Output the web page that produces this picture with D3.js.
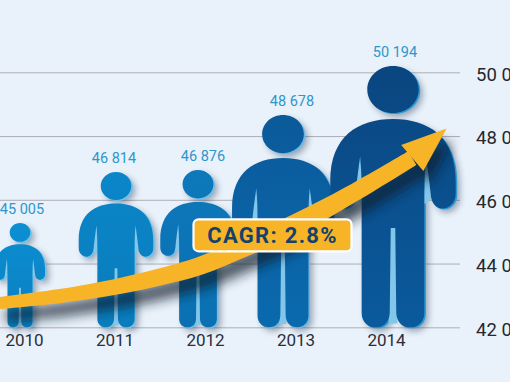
<!DOCTYPE html>
<html><head><meta charset="utf-8">
<script src="https://cdn.jsdelivr.net/npm/d3@7/dist/d3.min.js"></script>
<style>html,body{margin:0;padding:0;background:#e9f1fa;overflow:hidden}svg{display:block}
text{font-family:Roboto,"Open Sans",sans-serif}</style></head><body>
<script>
const years=["2010","2011","2012","2013","2014"];
const values=[45005,46814,46876,48678,50194];
const axisTicks=[42000,44000,46000,48000,50000];
const topColors=["#0b8fd3","#0a86c9","#0d78ba","#0a5a9a","#0a4680"];
const bottomColors=["#0a7fc0","#0a7cbc","#0a70b2","#0a6aae","#0a5a9c"];
const rimColors=["#6fc3ea","#6fc3ea","#6fbfe8","#6ab8e4","#2b9bd6"];
const figureCentres=[20,116,198,283,393];
const labelCentres=[22,114,203,292,395];
const figureDomain=[45005,46814,48678,50194], figureRange=[223,172,115,66];
const arrowYears=[2009.73,2010.40,2011.06,2011.50,2011.94,2012.44,2013.05,2013.60,2014.29];
const arrowValues=[42762,42982,43296,43578,43923,44519,45303,46150,47311];
const arrowWidths=[12,14,16,17,18,19,20,18,16];
const arrowTip=[2014.67,48239];
const cagrLabel="CAGR: 2.8%";

const W=510,H=382;
const svg=d3.select("body").append("svg").attr("width",W).attr("height",H);
const defs=svg.append("defs");
svg.append("rect").attr("width",W).attr("height",H).attr("fill","#e9f1fa");
[["b3",3],["b7",6]].forEach(([id,s])=>defs.append("filter").attr("id",id)
  .attr("x","-30%").attr("y","-30%").attr("width","160%").attr("height","160%")
  .append("feGaussianBlur").attr("stdDeviation",s));
years.forEach((y,i)=>{
  const g=defs.append("linearGradient").attr("id","g"+y).attr("x1",0).attr("y1",0).attr("x2",0).attr("y2",1);
  g.append("stop").attr("offset",0).attr("stop-color",topColors[i]);
  g.append("stop").attr("offset",1).attr("stop-color",bottomColors[i]);
});

const y=d3.scaleLinear().domain([42000,50000]).range([327.3,72.3]);
const xAxisScale=d3.scalePoint().domain(years).range([24,386]);
const xYear=d3.scaleLinear().domain([2010,2014]).range([24,386]);
const xFigure=d3.scaleOrdinal(years,figureCentres);
const xLabel=d3.scaleOrdinal(years,labelCentres);
const figureTop=d3.scaleLinear().domain(figureDomain).range(figureRange);
const fmt=v=>d3.format(",")(v).replace(","," ");

// grid + right axis
const yAxis=svg.append("g").attr("transform","translate(460,0)")
  .call(d3.axisRight(y).tickValues(axisTicks).tickSize(-460).tickPadding(16).tickFormat(fmt));
yAxis.select(".domain").remove();
yAxis.selectAll("line").attr("stroke","#adafb6").attr("stroke-width",1);
yAxis.selectAll("text").attr("font-size",18.5).attr("fill","#24272e").attr("dy","0.42em");

// bottom axis
const xAxis=svg.append("g").attr("transform","translate(0,327.3)")
  .call(d3.axisBottom(xAxisScale).tickSize(0).tickPadding(6));
xAxis.select(".domain").remove();
xAxis.selectAll("text").attr("font-size",17).attr("fill","#2a2f3a").attr("dy","0.72em");

// person shape, unit box: u in [-.5,.5], v in [0,1]
function person(w,h){
  const p=d3.path(),X=u=>u*w,Y=v=>v*h;
  p.moveTo(X(0),Y(.203));
  p.bezierCurveTo(X(.28),Y(.203),X(.5),Y(.27),X(.5),Y(.44));
  p.lineTo(X(.5),Y(.49));
  p.bezierCurveTo(X(.5),Y(.525),X(.45),Y(.545),X(.395),Y(.545));
  p.bezierCurveTo(X(.34),Y(.545),X(.305),Y(.525),X(.3),Y(.49));
  p.bezierCurveTo(X(.29),Y(.44),X(.275),Y(.39),X(.262),Y(.345));
  p.bezierCurveTo(X(.252),Y(.39),X(.25),Y(.44),X(.25),Y(.5));
  p.lineTo(X(.25),Y(.945));
  p.bezierCurveTo(X(.25),Y(.98),X(.2),Y(1),X(.14),Y(1));
  p.bezierCurveTo(X(.07),Y(1),X(.03),Y(.98),X(.026),Y(.945));
  p.lineTo(X(.018),Y(.62));
  p.lineTo(X(-.018),Y(.62));
  p.lineTo(X(-.026),Y(.945));
  p.bezierCurveTo(X(-.03),Y(.98),X(-.07),Y(1),X(-.14),Y(1));
  p.bezierCurveTo(X(-.2),Y(1),X(-.25),Y(.98),X(-.25),Y(.945));
  p.lineTo(X(-.25),Y(.5));
  p.bezierCurveTo(X(-.25),Y(.44),X(-.252),Y(.39),X(-.262),Y(.345));
  p.bezierCurveTo(X(-.275),Y(.39),X(-.29),Y(.44),X(-.3),Y(.49));
  p.bezierCurveTo(X(-.305),Y(.525),X(-.34),Y(.545),X(-.395),Y(.545));
  p.bezierCurveTo(X(-.45),Y(.545),X(-.5),Y(.525),X(-.5),Y(.49));
  p.lineTo(X(-.5),Y(.44));
  p.bezierCurveTo(X(-.5),Y(.27),X(-.28),Y(.203),X(0),Y(.203));
  p.closePath();
  const rx=.205*w,ry=.09*h,cy=.09*h,k=.5523;
  p.moveTo(rx,cy);
  p.bezierCurveTo(rx,cy+k*ry,k*rx,cy+ry,0,cy+ry);
  p.bezierCurveTo(-k*rx,cy+ry,-rx,cy+k*ry,-rx,cy);
  p.bezierCurveTo(-rx,cy-k*ry,-k*rx,cy-ry,0,cy-ry);
  p.bezierCurveTo(k*rx,cy-ry,rx,cy-k*ry,rx,cy);
  p.closePath();
  return p.toString();
}
// the light inner gaps: between the legs and between arms and torso
function gaps(w,h){
  const p=d3.path(),X=u=>u*w,Y=v=>v*h;
  p.moveTo(X(-.03),Y(.61));p.lineTo(X(.03),Y(.61));p.lineTo(X(.035),Y(.985));p.lineTo(X(-.035),Y(.985));p.closePath();
  [1,-1].forEach(s=>{
    p.moveTo(X(s*.262),Y(.34));p.lineTo(X(s*.305),Y(.51));p.lineTo(X(s*.245),Y(.53));p.closePath();
  });
  return p.toString();
}
const base=y(42000);
const fig=svg.selectAll("g.fig").data(years).join("g").attr("class","fig")
  .attr("transform",(d,i)=>`translate(${xFigure(d)},${figureTop(values[i])})`);
const hgt=i=>base-figureTop(values[i]);
const shape=(d,i)=>person(hgt(i)*.48,hgt(i));
fig.append("path").attr("d",shape).attr("transform","translate(4,4)")
  .attr("fill","#1b3350").attr("opacity",.4).attr("filter","url(#b3)");
fig.append("path").attr("d",shape).attr("transform","translate(1.5,1)")
  .attr("fill",(d,i)=>rimColors[i]);
fig.append("path").attr("d",(d,i)=>gaps(hgt(i)*.48,hgt(i))).attr("fill","#82c6ea");
fig.append("path").attr("d",shape).attr("fill",d=>`url(#g${d})`);

// value labels
svg.selectAll("text.val").data(years).join("text").attr("class","val")
  .attr("x",d=>xLabel(d)).attr("y",(d,i)=>figureTop(values[i])-14).attr("dy","0.36em")
  .attr("text-anchor","middle").attr("font-size",14.5).attr("fill","#2d97cb")
  .text((d,i)=>fmt(values[i]));

// arrow: shaft of changing width, then head
const pts=arrowYears.map((t,i)=>[xYear(t),y(arrowValues[i])]);
const shaftPts=pts.map((p,i)=>{
  const a=pts[Math.max(i-1,0)],b=pts[Math.min(i+1,pts.length-1)];
  const t=Math.atan2(b[1]-a[1],b[0]-a[0]),hwid=arrowWidths[i]/2;
  return {x0:p[0]+Math.sin(t)*hwid,y0:p[1]-Math.cos(t)*hwid,x1:p[0]-Math.sin(t)*hwid,y1:p[1]+Math.cos(t)*hwid};
});
const shaft=d3.area().x0(d=>d.x0).y0(d=>d.y0).x1(d=>d.x1).y1(d=>d.y1).curve(d3.curveCatmullRom)(shaftPts);
const tip=[xYear(arrowTip[0]),y(arrowTip[1])];
const last=pts[pts.length-1];
const ang=Math.atan2(tip[1]-last[1],tip[0]-last[0]);
const hw=17,nx=-Math.sin(ang),ny=Math.cos(ang);
const head=d3.path();
head.moveTo(tip[0],tip[1]);
head.lineTo(last[0]+nx*hw,last[1]+ny*hw);
head.lineTo(last[0]-nx*hw,last[1]-ny*hw);
head.closePath();
const shadow=svg.append("g").attr("transform","translate(6,13)").attr("filter","url(#b7)")
  .attr("opacity",.7);
shadow.append("path").attr("d",shaft).attr("fill","#0d1a2a");
shadow.append("path").attr("d",head.toString()).attr("fill","#0d1a2a");
const arrow=svg.append("g");
arrow.append("path").attr("d",shaft).attr("fill","#f8b427");
arrow.append("path").attr("d",head.toString()).attr("fill","#f8b427");

// CAGR label
const lab=svg.append("g").attr("transform","translate(272.5,235.3)");
lab.append("rect").attr("x",-79).attr("y",-16).attr("width",158).attr("height",32).attr("rx",5)
  .attr("fill","#f8b427").attr("stroke","#fff").attr("stroke-width",2.2);
lab.append("text").attr("text-anchor","middle").attr("dy","0.36em").attr("font-size",22)
  .attr("font-weight",700).attr("letter-spacing","1.3px").attr("fill","#14426b").text(cagrLabel);
</script></body></html>
